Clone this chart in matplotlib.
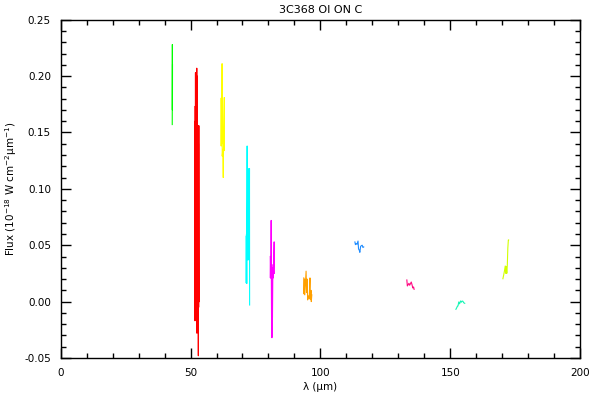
import matplotlib
matplotlib.use("Agg")
import matplotlib.pyplot as plt
from matplotlib.ticker import MultipleLocator

# Wavelength (um) and flux (1e-18 W cm^-2 um^-1) for each spectral segment
green_x = [42.95, 43.0, 43.02, 43.05]
green_y = [0.157, 0.228, 0.170, 0.210]

red_x = [51.70, 51.72, 51.80, 51.85, 51.90, 51.95, 52.00, 52.05, 52.10, 52.18,
         52.25, 52.32, 52.40, 52.45, 52.52, 52.58, 52.65, 52.72, 52.80, 52.86,
         52.92, 53.00, 53.05, 53.12, 53.20, 53.28]
red_y = [0.173, -0.017, 0.160, 0.003, 0.203, 0.010, 0.195, 0.003, 0.200, 0.005,
         0.203, 0.003, 0.207, -0.028, 0.200, -0.020, 0.190, -0.025, 0.156, -0.010,
         0.150, -0.048, 0.140, -0.005, 0.156, 0.000]

yellow_x = [61.75, 61.80, 61.90, 62.05, 62.15, 62.20, 62.45, 62.60, 62.75, 63.00, 63.05]
yellow_y = [0.180, 0.138, 0.181, 0.140, 0.211, 0.129, 0.135, 0.110, 0.150, 0.181, 0.134]

cyan_x = [71.40, 71.45, 71.55, 71.65, 71.80, 71.85, 72.00, 72.10, 72.20, 72.30,
          72.50, 72.60, 72.70, 72.75]
cyan_y = [0.058, 0.0165, 0.060, 0.016, 0.138, 0.037, 0.116, 0.040, 0.110, 0.037,
          0.118, 0.038, 0.118, -0.003]

magenta_x = [80.70, 80.75, 80.85, 80.95, 81.05, 81.10, 81.20, 81.30, 81.35, 81.45,
             81.55, 81.70, 81.85, 82.00, 82.20, 82.30]
magenta_y = [0.040, 0.021, 0.040, 0.021, 0.072, 0.030, -0.014, 0.033, -0.032, 0.028,
             -0.014, 0.030, 0.021, 0.035, 0.053, 0.025]

orange_x = [93.6, 93.7, 93.9, 94.0, 94.5, 94.7, 94.9, 95.1, 95.4, 95.7, 96.0, 96.1, 96.4, 96.5, 96.7]
orange_y = [0.021, 0.0068, 0.020, 0.006, 0.027, 0.008, 0.020, 0.0015, 0.005, 0.003,
            0.021, 0.002, 0.010, 0.000, 0.006]

blue_x = [113.3, 113.5, 113.8, 114.1, 114.5, 114.7, 115.0, 115.2, 115.5, 115.8, 116.1, 116.4, 116.7]
blue_y = [0.0529, 0.0505, 0.0515, 0.0508, 0.0537, 0.0467, 0.0455, 0.0437, 0.0490,
          0.0496, 0.0500, 0.0480, 0.0485]

pink_x = [133.3, 133.5, 133.8, 134.1, 134.4, 134.7, 135.0, 135.3, 135.6, 135.9, 136.1]
pink_y = [0.0192, 0.0139, 0.0150, 0.0162, 0.0145, 0.0160, 0.0174, 0.0150, 0.0121, 0.0130, 0.0109]

teal_x = [152.2, 152.5, 152.8, 153.0, 153.3, 153.6, 154.0, 154.3, 154.6, 154.9, 155.2, 155.6]
teal_y = [-0.0068, -0.0055, -0.0040, -0.0039, -0.0003, -0.0020, 0.0006, -0.0005,
          0.0005, 0.0003, -0.0010, -0.0015]

lime_x = [170.3, 170.6, 170.9, 171.2, 171.4, 171.6, 171.8, 172.0, 172.2, 172.4, 172.5]
lime_y = [0.0203, 0.0236, 0.0272, 0.0316, 0.0251, 0.0310, 0.0251, 0.0325, 0.0476, 0.0547, 0.0547]

segments = [
    (green_x, green_y, "#00ff00"),
    (red_x, red_y, "#ff0000"),
    (yellow_x, yellow_y, "#ffff00"),
    (cyan_x, cyan_y, "#00ffff"),
    (magenta_x, magenta_y, "#ff00ff"),
    (orange_x, orange_y, "#ffa000"),
    (blue_x, blue_y, "#1e8cff"),
    (pink_x, pink_y, "#ff0a82"),
    (teal_x, teal_y, "#14f5b4"),
    (lime_x, lime_y, "#d2ff00"),
]

fig = plt.figure(figsize=(6, 4), dpi=100)
ax = fig.add_axes([0.1012, 0.105, 0.8655, 0.8458])

for xs, ys, c in segments:
    ax.plot(xs, ys, color=c, lw=0.8)

ax.set_xlim(0, 200)
ax.set_ylim(-0.05, 0.25)
ax.xaxis.set_major_locator(MultipleLocator(50))
ax.xaxis.set_minor_locator(MultipleLocator(10))
ax.yaxis.set_major_locator(MultipleLocator(0.05))
ax.yaxis.set_minor_locator(MultipleLocator(0.01))
ax.yaxis.set_major_formatter(matplotlib.ticker.FormatStrFormatter("%.2f"))
ax.tick_params(which="both", direction="in", top=True, right=True, labelsize=7.5, width=1)
ax.tick_params(which="major", length=7.2, pad=7)
ax.tick_params(which="minor", length=3.6)
for s in ax.spines.values():
    s.set_linewidth(1)

ax.set_title("3C368 OI ON C", fontsize=8, pad=5)
ax.set_xlabel("λ (μm)", fontsize=7.5, labelpad=3)
ax.set_ylabel(r"Flux (10$^{-18}$ W cm$^{-2}$μm$^{-1}$)", fontsize=7.5)

fig.savefig("out.png", dpi=100)
